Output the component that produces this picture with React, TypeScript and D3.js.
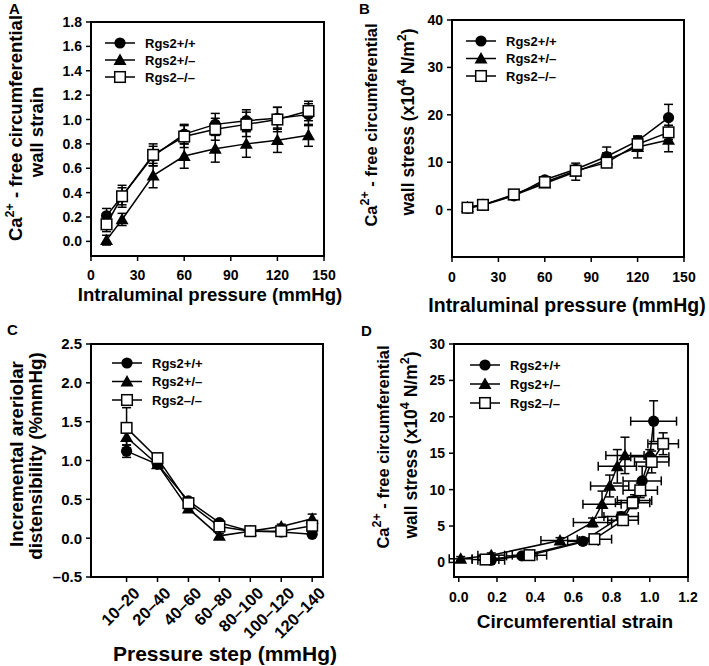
import React from "react";
import * as d3 from "d3";

// ---------- DATA ----------
const seriesNames = ["Rgs2+/+", "Rgs2+/–", "Rgs2–/–"];
const pressures = [10, 20, 40, 60, 80, 100, 120, 140];

// Panel A: Ca2+-free circumferential wall strain
const strainWT = [0.21, 0.37, 0.7, 0.88, 0.96, 0.99, 1.01, 1.04];
const strainHet = [0.01, 0.18, 0.54, 0.7, 0.76, 0.8, 0.83, 0.87];
const strainKO = [0.14, 0.37, 0.71, 0.86, 0.92, 0.96, 1.0, 1.07];
const strainErrWT = [0.06, 0.07, 0.08, 0.08, 0.09, 0.09, 0.09, 0.09];
const strainErrHet = [0.04, 0.05, 0.1, 0.1, 0.11, 0.11, 0.1, 0.09];
const strainErrKO = [0.06, 0.09, 0.09, 0.09, 0.09, 0.1, 0.1, 0.08];

// Panel B: wall stress (x10^4 N/m2)
const stressWT = [0.3, 0.9, 2.9, 6.3, 8.5, 11.2, 14.5, 19.4];
const stressHet = [0.5, 1.0, 3.0, 5.5, 8.0, 10.5, 13.2, 14.7];
const stressKO = [0.4, 1.0, 3.2, 5.8, 8.2, 9.9, 13.8, 16.3];
const stressErrWT = [0.3, 0.3, 0.4, 0.6, 0.8, 2.0, 1.0, 2.8];
const stressErrHet = [0.3, 0.3, 0.4, 0.6, 1.8, 1.5, 2.3, 2.5];
const stressErrKO = [0.3, 0.3, 0.4, 0.6, 0.8, 1.0, 1.5, 1.5];

// Panel C: incremental distensibility
const steps = ["10–20", "20–40", "40–60", "60–80", "80–100", "100–120", "120–140"];
const distWT = [1.12, 0.95, 0.48, 0.2, 0.09, 0.08, 0.05];
const distHet = [1.3, 0.95, 0.38, 0.03, 0.09, 0.15, 0.25];
const distKO = [1.42, 1.03, 0.45, 0.15, 0.09, 0.09, 0.16];
const distErrWT = [0.08, 0.05, 0.04, 0.03, 0.02, 0.03, 0.03];
const distErrHet = [0.1, 0.05, 0.04, 0.03, 0.02, 0.03, 0.06];
const distErrKO = [0.26, 0.06, 0.05, 0.04, 0.02, 0.03, 0.05];

// Panel D: stress vs strain
const dStrainWT = [0.17, 0.33, 0.65, 0.85, 0.92, 0.96, 1.0, 1.02];
const dStrainHet = [0.01, 0.17, 0.53, 0.7, 0.75, 0.79, 0.83, 0.87];
const dStrainKO = [0.14, 0.37, 0.71, 0.86, 0.91, 0.95, 1.01, 1.07];
const dStrainErrWT = [0.07, 0.08, 0.08, 0.09, 0.09, 0.1, 0.1, 0.12];
const dStrainErrHet = [0.06, 0.07, 0.1, 0.1, 0.1, 0.1, 0.1, 0.1];
const dStrainErrKO = [0.07, 0.09, 0.09, 0.08, 0.09, 0.09, 0.09, 0.08];

const ticksA_x = [0, 30, 60, 90, 120, 150];
const ticksA_y = [0, 0.2, 0.4, 0.6, 0.8, 1.0, 1.2, 1.4, 1.6, 1.8];
const ticksB_y = [0, 10, 20, 30, 40];
const ticksC_y = [-0.5, 0, 0.5, 1.0, 1.5, 2.0, 2.5];
const ticksD_x = [0, 0.2, 0.4, 0.6, 0.8, 1.0, 1.2];
const ticksD_y = [0, 5, 10, 15, 20, 25, 30];

const FONT = "'Liberation Sans', Arial, Helvetica, sans-serif";
const markerTypes = ["circle", "triangle", "square"];

type Series = { x: number[]; y: number[]; ye?: number[]; xe?: number[] };

function Marker({ type, cx, cy }: { type: string; cx: number; cy: number }) {
  if (type === "circle") return <circle cx={cx} cy={cy} r={5.6} fill="#000" />;
  if (type === "triangle") {
    const s = 6.5;
    return (
      <path
        d={`M${cx},${cy - s} L${cx + s},${cy + s * 0.75} L${cx - s},${cy + s * 0.75} Z`}
        fill="#000"
      />
    );
  }
  return (
    <rect x={cx - 5.3} y={cy - 5.3} width={10.6} height={10.6} fill="#fff" stroke="#000" strokeWidth={1.5} />
  );
}

function Panel(props: {
  x: d3.ScaleLinear<number, number>;
  y: d3.ScaleLinear<number, number>;
  xTicks: number[];
  xTickLabels: string[];
  rotateX?: boolean;
  tickSize?: number;
  xTickSize?: number;
  xTickOffset?: number;
  yTicks: number[];
  yFmt: (v: number) => string;
  series: Series[];
  legend: { x: number; y: number; dy: number };
  letter: { x: number; y: number; t: string };
  xTitle: { x: number; y: number; t: string; size: number };
  yTitle: React.ReactNode;
}) {
  const { x, y } = props;
  const ts = props.tickSize ?? 14;
  const xts = props.xTickSize ?? ts;
  const xto = props.xTickOffset ?? 25;
  const [x0, x1] = x.range();
  const [y0, y1] = y.range(); // y0 bottom, y1 top
  const line = d3
    .line<[number, number]>()
    .x((d) => x(d[0]))
    .y((d) => y(d[1]));
  return (
    <g>
      <text x={props.letter.x} y={props.letter.y} fontFamily={FONT} fontWeight="bold" fontSize={15}>
        {props.letter.t}
      </text>
      {/* frame */}
      <rect x={x0} y={y1} width={x1 - x0} height={y0 - y1} fill="none" stroke="#000" strokeWidth={2} />
      {/* y ticks */}
      {props.yTicks.map((t) => (
        <g key={"y" + t}>
          <line x1={x0 - 5} x2={x0} y1={y(t)} y2={y(t)} stroke="#000" strokeWidth={1.5} />
          <text
            x={x0 - 9}
            y={y(t) + ts * 0.36}
            textAnchor="end"
            fontFamily={FONT}
            fontWeight="bold"
            fontSize={ts}
          >
            {props.yFmt(t)}
          </text>
        </g>
      ))}
      {/* x ticks */}
      {props.xTicks.map((t, i) => (
        <g key={"x" + i}>
          <line x1={x(t)} x2={x(t)} y1={y0} y2={y0 + 5} stroke="#000" strokeWidth={1.5} />
          {props.rotateX ? (
            <text
              transform={`translate(${x(t) + 6},${y0 + 9}) rotate(-45)`}
              textAnchor="end"
              dy="0.7em"
              fontFamily={FONT}
              fontWeight="bold"
              fontSize={xts}
            >
              {props.xTickLabels[i]}
            </text>
          ) : (
            <text
              x={x(t)}
              y={y0 + xto}
              textAnchor="middle"
              fontFamily={FONT}
              fontWeight="bold"
              fontSize={xts}
            >
              {props.xTickLabels[i]}
            </text>
          )}
        </g>
      ))}
      {/* series */}
      {props.series.map((s, si) => {
        const pts: [number, number][] = s.x.map((xv, i) => [xv, s.y[i]]);
        return (
          <g key={"s" + si}>
            {s.ye &&
              pts.map((p, i) => (
                <g key={"ye" + i} stroke="#000" strokeWidth={1.5}>
                  <line x1={x(p[0])} x2={x(p[0])} y1={y(p[1] - s.ye![i])} y2={y(p[1] + s.ye![i])} />
                  <line x1={x(p[0]) - 4.5} x2={x(p[0]) + 4.5} y1={y(p[1] + s.ye![i])} y2={y(p[1] + s.ye![i])} />
                  <line x1={x(p[0]) - 4.5} x2={x(p[0]) + 4.5} y1={y(p[1] - s.ye![i])} y2={y(p[1] - s.ye![i])} />
                </g>
              ))}
            {s.xe &&
              pts.map((p, i) => (
                <g key={"xe" + i} stroke="#000" strokeWidth={1.5}>
                  <line x1={x(p[0] - s.xe![i])} x2={x(p[0] + s.xe![i])} y1={y(p[1])} y2={y(p[1])} />
                  <line x1={x(p[0] - s.xe![i])} x2={x(p[0] - s.xe![i])} y1={y(p[1]) - 4.5} y2={y(p[1]) + 4.5} />
                  <line x1={x(p[0] + s.xe![i])} x2={x(p[0] + s.xe![i])} y1={y(p[1]) - 4.5} y2={y(p[1]) + 4.5} />
                </g>
              ))}
            <path d={line(pts) || ""} fill="none" stroke="#000" strokeWidth={1.5} />
            {pts.map((p, i) => (
              <Marker key={"m" + i} type={markerTypes[si]} cx={x(p[0])} cy={y(p[1])} />
            ))}
          </g>
        );
      })}
      {/* legend */}
      {seriesNames.map((n, i) => {
        const ly = props.legend.y + i * props.legend.dy;
        const lx = props.legend.x;
        return (
          <g key={"l" + i}>
            <line x1={lx - 15} x2={lx + 15} y1={ly} y2={ly} stroke="#000" strokeWidth={1.5} />
            <Marker type={markerTypes[i]} cx={lx} cy={ly} />
            <text x={lx + 25} y={ly + 4.5} fontFamily={FONT} fontWeight="bold" fontSize={13}>
              {n}
            </text>
          </g>
        );
      })}
      <text
        x={props.xTitle.x}
        y={props.xTitle.y}
        textAnchor="middle"
        fontFamily={FONT}
        fontWeight="bold"
        fontSize={props.xTitle.size}
      >
        {props.xTitle.t}
      </text>
      {props.yTitle}
    </g>
  );
}

function YTitle({ x, y, children, size = 18.5 }: { x: number; y: number; children: React.ReactNode; size?: number }) {
  return (
    <text
      transform={`translate(${x},${y}) rotate(-90)`}
      textAnchor="middle"
      fontFamily={FONT}
      fontWeight="bold"
      fontSize={size}
    >
      {children}
    </text>
  );
}

const CaLine = () => (
  <>
    Ca
    <tspan dy={-8} fontSize={12.5}>
      2+
    </tspan>
    <tspan dy={8}> - free circumferential</tspan>
  </>
);

const StressUnits = () => (
  <>
    wall stress (x10
    <tspan dy={-8} fontSize={12.5}>
      4
    </tspan>
    <tspan dy={8}> N/m</tspan>
    <tspan dy={-8} fontSize={12.5}>
      2
    </tspan>
    <tspan dy={8}>)</tspan>
  </>
);

export default function App() {
  const xA = d3.scaleLinear().domain([0, 150]).range([91, 324]);
  const yA = d3.scaleLinear().domain([-0.12, 1.8]).range([256, 22]);
  const xB = d3.scaleLinear().domain([0, 150]).range([452, 684]);
  const yB = d3.scaleLinear().domain([-10, 40]).range([257, 20]);
  const xC = d3.scaleLinear().domain([-1.15, 6.35]).range([91, 323]);
  const yC = d3.scaleLinear().domain([-0.5, 2.5]).range([577, 344]);
  const xD = d3.scaleLinear().domain([-0.025, 1.2]).range([454, 688]);
  const yD = d3.scaleLinear().domain([-2, 30]).range([577, 344]);

  const f1 = d3.format(".1f");
  const fC = (v: number) => (v < 0 ? "–" + f1(-v) : f1(v));
  const f0 = (v: number) => String(v);

  return (
    <svg
      width={709}
      height={666}
      style={{ position: "absolute", left: 0, top: 0, background: "#fff" }}
    >
      <rect width={709} height={666} fill="#fff" />
      <Panel
        x={xA}
        y={yA}
        xTicks={ticksA_x}
        xTickLabels={ticksA_x.map(f0)}
        xTickOffset={24}
        yTicks={ticksA_y}
        yFmt={f1}
        series={[
          { x: pressures, y: strainWT, ye: strainErrWT },
          { x: pressures, y: strainHet, ye: strainErrHet },
          { x: pressures, y: strainKO, ye: strainErrKO },
        ]}
        legend={{ x: 120, y: 43, dy: 17 }}
        letter={{ x: 9, y: 14, t: "A" }}
        xTitle={{ x: 210, y: 301, t: "Intraluminal pressure (mmHg)", size: 18.6 }}
        yTitle={
          <>
            <YTitle x={22} y={128}>
              <CaLine />
            </YTitle>
            <YTitle x={43} y={132}>wall strain</YTitle>
          </>
        }
      />
      <Panel
        x={xB}
        y={yB}
        xTicks={ticksA_x}
        xTickLabels={ticksA_x.map(f0)}
        yTicks={ticksB_y}
        yFmt={f0}
        series={[
          { x: pressures, y: stressWT, ye: stressErrWT },
          { x: pressures, y: stressHet, ye: stressErrHet },
          { x: pressures, y: stressKO, ye: stressErrKO },
        ]}
        legend={{ x: 481, y: 41, dy: 17.5 }}
        letter={{ x: 359, y: 14, t: "B" }}
        xTitle={{ x: 567, y: 312, t: "Intraluminal pressure (mmHg)", size: 19.5 }}
        yTitle={
          <>
            <YTitle x={377} y={125} size={16.5}>
              <CaLine />
            </YTitle>
            <YTitle x={414} y={122} size={17.5}>
              <StressUnits />
            </YTitle>
          </>
        }
      />
      <Panel
        x={xC}
        y={yC}
        xTicks={steps.map((_, i) => i)}
        xTickLabels={steps}
        rotateX
        tickSize={15}
        xTickSize={16.5}
        yTicks={ticksC_y}
        yFmt={fC}
        series={[
          { x: steps.map((_, i) => i), y: distWT, ye: distErrWT },
          { x: steps.map((_, i) => i), y: distHet, ye: distErrHet },
          { x: steps.map((_, i) => i), y: distKO, ye: distErrKO },
        ]}
        legend={{ x: 127, y: 363, dy: 18.5 }}
        letter={{ x: 7, y: 335, t: "C" }}
        xTitle={{ x: 225, y: 661, t: "Pressure step (mmHg)", size: 21 }}
        yTitle={
          <>
            <YTitle x={23} y={454} size={18.8}>Incremental areriolar</YTitle>
            <YTitle x={42} y={456} size={18.8}>distensibility (%mmHg)</YTitle>
          </>
        }
      />
      <Panel
        x={xD}
        y={yD}
        xTicks={ticksD_x}
        xTickLabels={ticksD_x.map(f1)}
        yTicks={ticksD_y}
        yFmt={f0}
        series={[
          { x: dStrainWT, y: stressWT, ye: stressErrWT, xe: dStrainErrWT },
          { x: dStrainHet, y: stressHet, ye: stressErrHet, xe: dStrainErrHet },
          { x: dStrainKO, y: stressKO, ye: stressErrKO, xe: dStrainErrKO },
        ]}
        legend={{ x: 485, y: 365, dy: 19 }}
        letter={{ x: 361, y: 336, t: "D" }}
        xTitle={{ x: 575, y: 628, t: "Circumferential strain", size: 19 }}
        yTitle={
          <>
            <YTitle x={389} y={447} size={16.5}>
              <CaLine />
            </YTitle>
            <YTitle x={417} y={445} size={17.5}>
              <StressUnits />
            </YTitle>
          </>
        }
      />
    </svg>
  );
}
